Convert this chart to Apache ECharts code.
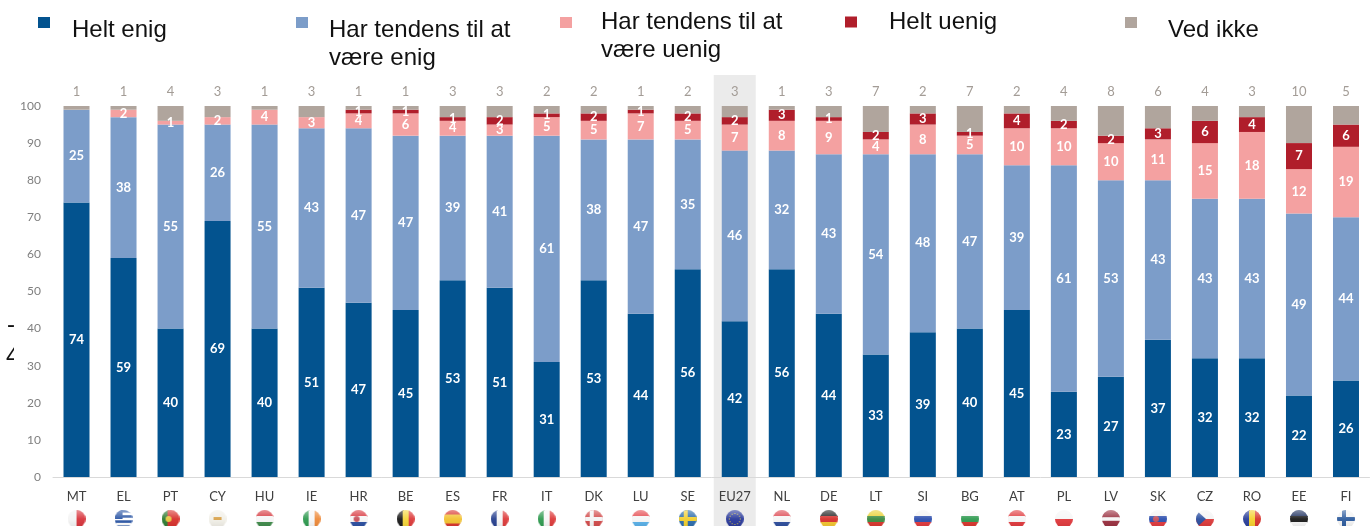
<!DOCTYPE html>
<html>
<head>
<meta charset="utf-8">
<title>Eurobarometer</title>
<script src="https://cdn.jsdelivr.net/npm/echarts@6/dist/echarts.min.js"></script>
<style>
    html, body { margin: 0; padding: 0; background: #fff; overflow: hidden; }
    #chart { width: 1371px; height: 526px; }
</style>
</head>
<body>
<div id="chart"></div>
<script>
const COUNTRIES = ['MT', 'EL', 'PT', 'CY', 'HU', 'IE', 'HR', 'BE', 'ES', 'FR', 'IT', 'DK', 'LU', 'SE', 'EU27', 'NL', 'DE', 'LT', 'SI', 'BG', 'AT', 'PL', 'LV', 'SK', 'CZ', 'RO', 'EE', 'FI'];
const HELT_ENIG = [74, 59, 40, 69, 40, 51, 47, 45, 53, 51, 31, 53, 44, 56, 42, 56, 44, 33, 39, 40, 45, 23, 27, 37, 32, 32, 22, 26];
const TENDENS_ENIG = [25, 38, 55, 26, 55, 43, 47, 47, 39, 41, 61, 38, 47, 35, 46, 32, 43, 54, 48, 47, 39, 61, 53, 43, 43, 43, 49, 44];
const TENDENS_UENIG = [0, 2, 1, 2, 4, 3, 4, 6, 4, 3, 5, 5, 7, 5, 7, 8, 9, 4, 8, 5, 10, 10, 10, 11, 15, 18, 12, 19];
const HELT_UENIG = [0, 0, 0, 0, 0, 0, 1, 1, 1, 2, 1, 2, 1, 2, 2, 3, 1, 2, 3, 1, 4, 2, 2, 3, 6, 4, 7, 6];
const VED_IKKE = [1, 1, 4, 3, 1, 3, 1, 1, 3, 3, 2, 2, 1, 2, 3, 1, 3, 7, 2, 7, 2, 4, 8, 6, 4, 3, 10, 5];

const NAME_HELT_ENIG = 'Helt enig';
const NAME_TENDENS_ENIG = 'Har tendens til at\nvære enig';
const NAME_TENDENS_UENIG = 'Har tendens til at\nvære uenig';
const NAME_HELT_UENIG = 'Helt uenig';
const NAME_VED_IKKE = 'Ved ikke';

// stripes of each flag: direction, then colours
const FLAGS = {
    MT: ['v', '#f4f4f4', '#d8343c'],
    EL: ['h', '#2b56a5', '#fff', '#2b56a5', '#fff', '#2b56a5', '#fff', '#2b56a5'],
    PT: ['v', '#2e7d32', '#d8302c', '#d8302c'],
    CY: ['h', '#f2f0e8'],
    HU: ['h', '#d6393f', '#f6f6f6', '#3f8a4a'],
    IE: ['v', '#2f9a50', '#f6f6f6', '#ee8a3a'],
    HR: ['h', '#d8343c', '#f6f6f6', '#2a4ea0'],
    BE: ['v', '#1a1a1a', '#f4d63a', '#dd3a3a'],
    ES: ['h', '#d8342c', '#f2c230', '#f2c230', '#d8342c'],
    FR: ['v', '#27408f', '#f6f6f6', '#dd3a3a'],
    IT: ['v', '#2f9a50', '#f6f6f6', '#dd3a3a'],
    DK: ['c', '#d24a4a', '#f4f4f4'],
    LU: ['h', '#e5474c', '#f6f6f6', '#58b0e8'],
    SE: ['c', '#2c6cab', '#f2cf2e'],
    EU27: ['h', '#28389a'],
    NL: ['h', '#dd4650', '#f6f6f6', '#2d4d9c'],
    DE: ['h', '#222', '#d8302c', '#f2c52e'],
    LT: ['h', '#e9d02f', '#3b8a3f', '#d8342c'],
    SI: ['h', '#f4f4f4', '#2d4fae', '#e0383c'],
    BG: ['h', '#f6f6f6', '#2f9a50', '#d8342c'],
    AT: ['h', '#e0383c', '#f6f6f6', '#e0383c'],
    PL: ['h', '#f6f6f6', '#e0383c'],
    LV: ['h', '#9a3040', '#9a3040', '#f6f6f6', '#9a3040', '#9a3040'],
    SK: ['h', '#f4f4f4', '#2d4fae', '#e0383c'],
    CZ: ['h', '#f4f4f4', '#dd3a3a'],
    RO: ['v', '#2a3f9a', '#f5d02c', '#d8342c'],
    EE: ['h', '#1c2f5e', '#1a1a1a', '#f6f6f6'],
    FI: ['c', '#f4f4f4', '#2e5c9e']
};

function flag_canvas(code) {
    let spec = FLAGS[code];
    let size = 18;
    let canvas = document.createElement('canvas');
    canvas.width = size;
    canvas.height = size;
    let ctx = canvas.getContext('2d');
    ctx.beginPath();
    ctx.arc(size / 2, size / 2, size / 2, 0, Math.PI * 2);
    ctx.clip();

    if (spec[0] === 'c') {
        ctx.fillStyle = spec[1];
        ctx.fillRect(0, 0, size, size);
        ctx.fillStyle = spec[2];
        ctx.fillRect(5, 0, 4, size);
        ctx.fillRect(0, 7, size, 4);
    } else {
        let colours = spec.slice(1);
        let step = size / colours.length;
        colours.forEach((colour, i) => {
            ctx.fillStyle = colour;
            if (spec[0] === 'h') {
                ctx.fillRect(0, i * step, size, step + 1);
            } else {
                ctx.fillRect(i * step, 0, step + 1, size);
            }
        });
    }

    if (code === 'CZ') {
        ctx.fillStyle = '#2a4ea0';
        ctx.beginPath();
        ctx.moveTo(0, 0);
        ctx.lineTo(10, 9);
        ctx.lineTo(0, 18);
        ctx.fill();
    }
    if (code === 'EL') {
        ctx.fillStyle = '#2b56a5';
        ctx.fillRect(0, 0, 8, 9);
    }
    if (code === 'CY') {
        ctx.fillStyle = '#d9a24a';
        ctx.fillRect(5, 7, 8, 3);
    }
    if (code === 'PT' || code === 'HR' || code === 'SK') {
        ctx.fillStyle = code === 'PT' ? '#e8c840' : '#c8505a';
        ctx.beginPath();
        ctx.arc(7, 9, 3, 0, Math.PI * 2);
        ctx.fill();
    }
    if (code === 'EU27') {
        ctx.fillStyle = '#e8d040';
        for (let i = 0; i < 12; i++) {
            ctx.fillRect(8.5 + 5.5 * Math.cos(i * Math.PI / 6), 8.5 + 5.5 * Math.sin(i * Math.PI / 6), 1, 1);
        }
    }

    // glossy top of the round flags
    let gloss = ctx.createLinearGradient(0, 0, 0, size);
    gloss.addColorStop(0, 'rgba(255,255,255,0.45)');
    gloss.addColorStop(0.5, 'rgba(255,255,255,0.05)');
    gloss.addColorStop(1, 'rgba(0,0,0,0.08)');
    ctx.fillStyle = gloss;
    ctx.fillRect(0, 0, size, size);
    return canvas;
}

let label_rich = {
    code: { color: '#404040', fontFamily: 'Lato', fontSize: 13, lineHeight: 20 }
};
COUNTRIES.forEach((code) => {
    label_rich['flag' + code] = {
        width: 18,
        height: 18,
        lineHeight: 24,
        backgroundColor: { image: flag_canvas(code) }
    };
});

function segment_label(params) {
    return params.value === 0 ? '' : String(params.value);
}

function stacked_series(name, values, colour) {
    return {
        name: name,
        type: 'bar',
        stack: 'total',
        barWidth: 26,
        itemStyle: { color: colour },
        label: {
            show: true,
            position: 'inside',
            color: '#fff',
            fontFamily: 'Lato',
            fontWeight: 'bold',
            fontSize: 13,
            formatter: segment_label
        },
        data: values
    };
}

// the legend text sits off-centre from its square, so a spacer line pushes it down
function legend_item(name, left, top, text_left, gap_above) {
    let lines = name.split('\n').map(line => '{t|' + line + '}');
    if (gap_above) {
        lines.unshift('{gap|}');
    }
    return {
        data: [name],
        left: left,
        top: top,
        padding: 0,
        selectedMode: false,
        icon: 'rect',
        itemWidth: 12,
        itemHeight: 11,
        formatter: function () {
            return lines.join('\n');
        },
        textStyle: {
            padding: [0, 0, 0, text_left],
            rich: {
                t: { color: '#111', fontFamily: 'Liberation Sans', fontSize: 24, lineHeight: 28 },
                gap: { width: 1, height: gap_above, lineHeight: gap_above }
            }
        }
    };
}

let ved_ikke_series = stacked_series(NAME_VED_IKKE, VED_IKKE, '#b0a59d');
ved_ikke_series.label = {
    show: true,
    position: 'top',
    distance: 8,
    color: '#a39c96',
    fontFamily: 'Lato',
    fontSize: 13,
    formatter: segment_label
};

let chart = echarts.init(document.getElementById('chart'));

let echarts_options = {
    animation: false,
    color: ['#03538f', '#7c9dc9', '#f4a1a1', '#b01e2b', '#b0a59d'],
    legend: [
        legend_item(NAME_HELT_ENIG, 38, 1, 17, 15),
        legend_item(NAME_TENDENS_ENIG, 296, -27, 16, 43),
        legend_item(NAME_TENDENS_UENIG, 560, -19, 24, 27),
        legend_item(NAME_HELT_UENIG, 845, 10, 27, 0),
        legend_item(NAME_VED_IKKE, 1125, 1, 26, 15)
    ],
    grid: {
        left: 53,
        top: 106,
        width: 1316.5,
        height: 371,
        outerBoundsMode: 'none'
    },
    xAxis: {
        type: 'category',
        data: COUNTRIES,
        axisLine: { lineStyle: { color: '#d9d9d9' } },
        axisTick: { show: false },
        axisLabel: {
            interval: 0,
            margin: 10,
            formatter: function (value) {
                return '{code|' + value + '}\n{flag' + value + '|}';
            },
            rich: label_rich
        }
    },
    yAxis: {
        type: 'value',
        min: 0,
        max: 100,
        interval: 10,
        axisLine: { show: false },
        axisTick: { show: false },
        splitLine: { show: false },
        axisLabel: {
            margin: 12,
            color: '#7f7f7f',
            fontFamily: 'Lato',
            fontSize: 12
        }
    },
    series: [
        stacked_series(NAME_HELT_ENIG, HELT_ENIG, '#03538f'),
        stacked_series(NAME_TENDENS_ENIG, TENDENS_ENIG, '#7c9dc9'),
        stacked_series(NAME_TENDENS_UENIG, TENDENS_UENIG, '#f4a1a1'),
        stacked_series(NAME_HELT_UENIG, HELT_UENIG, '#b01e2b'),
        ved_ikke_series
    ]
};

chart.setOption(echarts_options);

// grey band behind EU27, taken from the axis position
let band_centre = chart.convertToPixel({ xAxisIndex: 0 }, 'EU27');
chart.setOption({
    graphic: [
        { type: 'rect', z: 0, shape: { x: band_centre - 21, y: 75, width: 42, height: 451 }, style: { fill: '#ebebeb' } },
        // cut-off scraps of text at the left edge of the source picture
        { type: 'text', z: 5, x: 7, y: 313, style: { text: '-', fill: '#111', font: '24px "Liberation Sans"' } },
        { type: 'text', z: 5, x: 6, y: 345, style: { text: '4', fill: '#111', font: '24px "Liberation Sans"' } },
        { type: 'rect', z: 6, shape: { x: 14, y: 300, width: 6, height: 80 }, style: { fill: '#fff' } }
    ]
});

window.addEventListener('resize', function () {
    chart?.resize();
});
</script>
</body>
</html>
